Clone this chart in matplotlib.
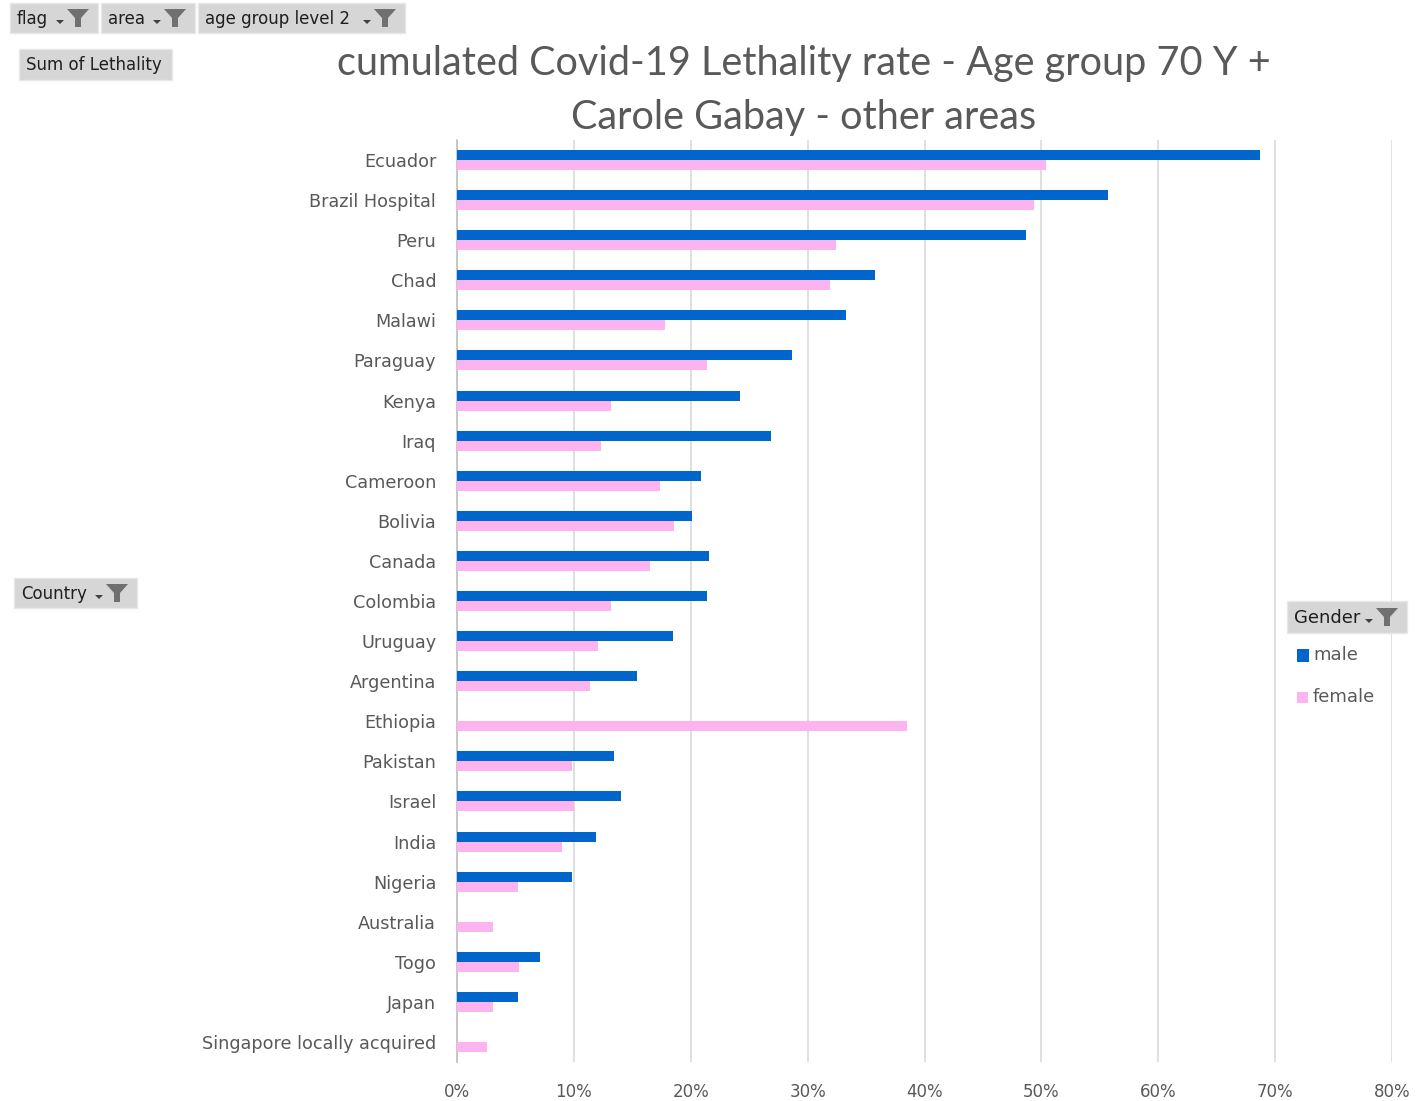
import matplotlib
matplotlib.use("Agg")
import matplotlib.pyplot as plt
import numpy as np
from matplotlib.patches import Rectangle, Polygon

countries = ["Ecuador", "Brazil Hospital", "Peru", "Chad", "Malawi", "Paraguay", "Kenya",
             "Iraq", "Cameroon", "Bolivia", "Canada", "Colombia", "Uruguay", "Argentina",
             "Ethiopia", "Pakistan", "Israel", "India", "Nigeria", "Australia", "Togo",
             "Japan", "Singapore locally acquired"]
male = [68.7, 55.7, 48.7, 35.8, 33.3, 28.7, 24.2, 26.9, 20.9, 20.1, 21.6, 21.4, 18.5, 15.4,
        np.nan, 13.4, 14.0, 11.9, 9.8, np.nan, 7.1, 5.2, np.nan]
female = [50.4, 49.4, 32.4, 31.9, 17.8, 21.4, 13.2, 12.3, 17.4, 18.6, 16.5, 13.2, 12.1, 11.4,
          38.5, 9.8, 10.0, 9.0, 5.2, 3.1, 5.3, 3.1, 2.6]
xticks = [0, 10, 20, 30, 40, 50, 60, 70, 80]
xticklabels = ["0%", "10%", "20%", "30%", "40%", "50%", "60%", "70%", "80%"]

W, H = 1421, 1101
fig = plt.figure(figsize=(W / 100, H / 100), dpi=100)
fig.patch.set_facecolor("white")

def fx(px):
    return px / W

def fy(py):
    return 1 - py / H

ax = fig.add_axes([fx(457), fy(1062), fx(1392) - fx(457), fy(140) - fy(1062)])
y = np.arange(len(countries))
MALE_C = "#0066CC"
FEMALE_C = "#FCB3EF"
ax.barh(y - 0.125, male, height=0.25, color=MALE_C, label="male", zorder=3)
ax.barh(y + 0.125, female, height=0.25, color=FEMALE_C, label="female", zorder=3)
ax.set_ylim(len(countries) - 0.5, -0.5)
ax.set_xlim(0, 80)
ax.set_yticks(y)
ax.set_yticklabels(countries, fontsize=12.7, color="#595959", family="DejaVu Sans")
ax.set_xticks(xticks)
ax.set_xticklabels(xticklabels, fontsize=12, color="#595959")
ax.tick_params(axis="both", length=0)
ax.tick_params(axis="y", pad=15)
ax.tick_params(axis="x", pad=15)
ax.grid(axis="x", color="#D9D9D9", linewidth=1.2, zorder=0)
for s in ["top", "right", "bottom"]:
    ax.spines[s].set_visible(False)
ax.spines["left"].set_color("#BFBFBF")
ax.spines["left"].set_linewidth(1.2)
ax.set_facecolor("white")

fig.text(fx(804), fy(63), "cumulated Covid-19 Lethality rate - Age group 70 Y +",
         ha="center", va="center", fontsize=28.5, color="#595959", family="Lato")
fig.text(fx(804), fy(117), "Carole Gabay - other areas",
         ha="center", va="center", fontsize=28.5, color="#595959", family="Lato")

def button(x0, y0, x1, y1, label, funnel=True, fs=12):
    fig.patches.append(Rectangle((fx(x0), fy(y1)), fx(x1 - x0), (y1 - y0) / H,
                                 transform=fig.transFigure, facecolor="#D6D6D6",
                                 edgecolor="#E8E8E8", linewidth=1, zorder=1))
    fig.text(fx(x0 + 7), fy((y0 + y1) / 2 + 1), label, ha="left", va="center",
             fontsize=fs, color="#1F1F1F", family="DejaVu Sans", zorder=2)
    if funnel:
        cx = x1 - 20
        cy = (y0 + y1) / 2
        pts = [(cx - 11, cy - 9), (cx + 11, cy - 9), (cx + 3, cy), (cx + 3, cy + 9),
               (cx - 3, cy + 9), (cx - 3, cy)]
        fig.patches.append(Polygon([(fx(a), fy(b)) for a, b in pts], closed=True,
                                   transform=fig.transFigure, facecolor="#707070",
                                   edgecolor="none", zorder=2))
        ax_ = cx - 18
        tri = [(ax_ - 4, cy + 2), (ax_ + 4, cy + 2), (ax_, cy + 6)]
        fig.patches.append(Polygon([(fx(a), fy(b)) for a, b in tri], closed=True,
                                   transform=fig.transFigure, facecolor="#404040",
                                   edgecolor="none", zorder=2))

button(10, 3, 98, 33, "flag")
button(101, 3, 195, 33, "area")
button(198, 3, 405, 33, "age group level 2")
button(19, 49, 172, 80, "Sum of Lethality", funnel=False)
button(14, 578, 137, 608, "Country")
button(1287, 601, 1407, 633, "Gender", fs=13)

# legend
fig.patches.append(Rectangle((fx(1297), fy(662)), fx(12), 13 / H, transform=fig.transFigure,
                             facecolor=MALE_C, edgecolor="none"))
fig.text(fx(1313), fy(655), "male", ha="left", va="center", fontsize=13, color="#595959")
fig.patches.append(Rectangle((fx(1297), fy(703)), fx(11), 11 / H, transform=fig.transFigure,
                             facecolor=FEMALE_C, edgecolor="none"))
fig.text(fx(1313), fy(697), "female", ha="left", va="center", fontsize=13, color="#595959")

fig.savefig("out.png", dpi=100, facecolor="white")
